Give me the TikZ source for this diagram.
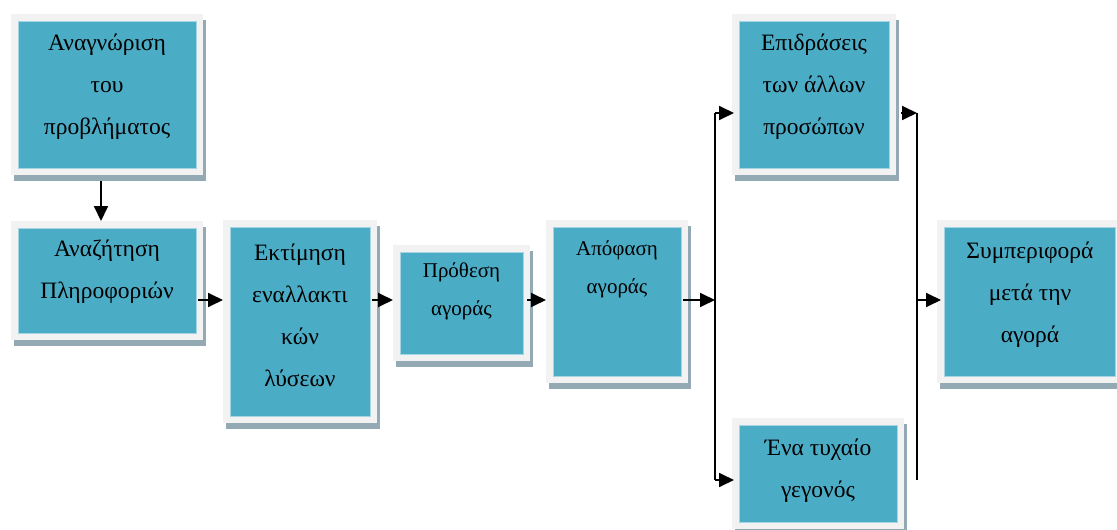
\documentclass[tikz,border=0pt]{standalone}
\usepackage{fontspec}
\setmainfont{Liberation Serif}
\usetikzlibrary{arrows.meta}
\definecolor{teal1}{HTML}{4BACC6}
\definecolor{bord}{HTML}{F2F2F2}
\definecolor{shad}{HTML}{93AAB4}
\definecolor{edgec}{HTML}{A5D5E2}
\tikzset{
  gbox/.style={fill=bord, inner sep=0pt, outer sep=0pt,
    preaction={fill=shad, transform canvas={shift={(2.5pt,-6pt)}}},
    path picture={\filldraw[fill=teal1, draw=edgec, line width=0.6pt]
      ([shift={(7pt,7pt)}]path picture bounding box.south west) rectangle
      ([shift={(-7pt,-7pt)}]path picture bounding box.north east);}},
  txt/.style={align=center, inner sep=0pt, font=\fontsize{23.5}{42}\selectfont},
  txts/.style={align=center, inner sep=0pt, font=\fontsize{21}{38}\selectfont},
  arr/.style={line width=1.8pt, -{Triangle[length=15pt,width=14pt]}},
  ln/.style={line width=1.6pt}
}
\begin{document}
\begin{tikzpicture}[x=1pt,y=-1pt]
\useasboundingbox (0,0) rectangle (1117,530);
\fill[white] (0,0) rectangle (1117,530);
% boxes
\node[gbox, minimum width=192pt, minimum height=161pt] (b1) at (107,94.5) {};
\node[gbox, minimum width=192pt, minimum height=119pt] (b2) at (107,280.5) {};
\node[gbox, minimum width=154pt, minimum height=203pt] (b3) at (300,321.5) {};
\node[gbox, minimum width=137pt, minimum height=116pt] (b4) at (461.5,303) {};
\node[gbox, minimum width=142pt, minimum height=163pt] (b5) at (617,301.5) {};
\node[gbox, minimum width=164pt, minimum height=161pt] (b6) at (814,94.5) {};
\node[gbox, minimum width=172pt, minimum height=111pt] (b7) at (818,473.5) {};
\node[gbox, minimum width=185pt, minimum height=163pt] (b8) at (1029.5,301.5) {};
% texts
\node[txt] (t1) at (107,87) {Αναγνώριση\\του\\προβλήματος};
\node[txt] (t2) at (107,271.5) {Αναζήτηση\\Πληροφοριών};
\node[txt] (t3) at (300,315) {Εκτίμηση\\εναλλακτι\\κών\\λύσεων};
\node[txts] (t4) at (461.5,291) {Πρόθεση\\αγοράς};
\node[txts] (t5) at (617,269) {Απόφαση\\αγοράς};
\node[txt] (t6) at (814,87) {Επιδράσεις\\των άλλων\\προσώπων};
\node[txt] (t7) at (818,471) {Ένα τυχαίο\\γεγονός};
\node[txt] (t8) at (1030,295) {Συμπεριφορά\\μετά την\\αγορά};
% junction coordinates
\coordinate (r) at (0,300);
\coordinate (jl1) at (715,113);
\coordinate (jl2) at (715,480);
\coordinate (jlm) at (715,300);
\coordinate (jr1) at (917,113);
\coordinate (jr2) at (917,480);
\coordinate (jrm) at (917,300);
% connectors
\draw[arr] ([xshift=-6pt,yshift=-6pt]b1.south) -- ([xshift=-6pt]b2.north);
\draw[arr] ([xshift=-5pt]b2.east |- r) -- (b3.west |- r);
\draw[arr] ([xshift=-5pt]b3.east |- r) -- (b4.west |- r);
\draw[arr] ([xshift=-3pt]b4.east |- r) -- (b5.west |- r);
\draw[arr] ([xshift=-5pt]b5.east |- r) -- (jlm);
\draw[ln] (jl1) -- (jl2);
\draw[arr] (jl1) -- ([xshift=2pt]b6.west |- jl1);
\draw[arr] (jl2) -- ([xshift=2pt]b7.west |- jl2);
\draw[arr] ([xshift=5pt]b6.east |- jr1) -- (jr1);
\draw[ln] (jr1) -- (jr2);
\draw[arr] (jrm) -- ([xshift=4pt]b8.west |- jrm);
\end{tikzpicture}
\end{document}
